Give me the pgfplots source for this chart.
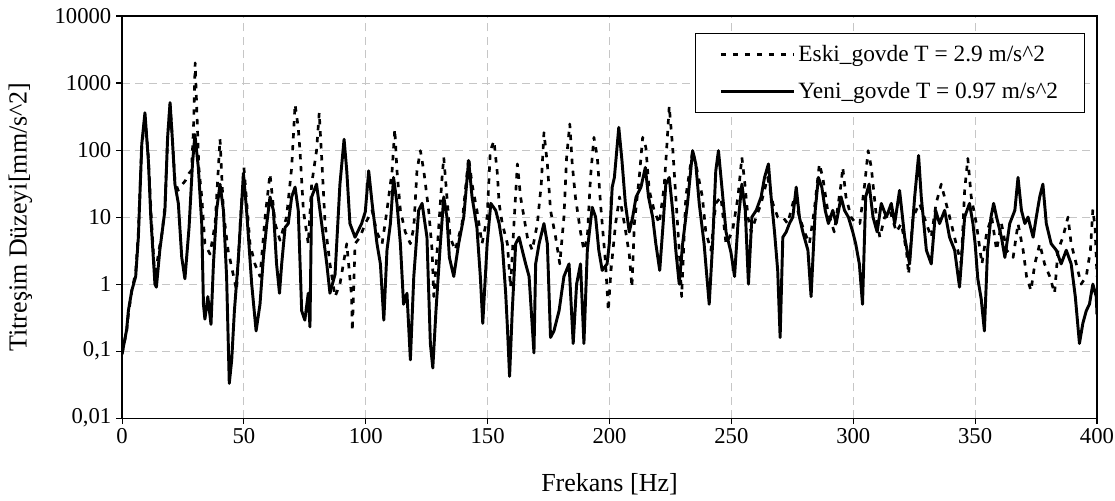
\documentclass[border=0pt]{standalone}
\usepackage{pgfplots}
\pgfplotsset{compat=1.18}
\usepackage{fontspec}
\setmainfont{Liberation Serif}

% Eski_govde (dashed)
\pgfplotstableread{
f v
0 0.09
1.9 0.2
2.6 0.35
4 0.8
5.6 1.5
6.7 6
8 100
9.4 320
10.8 80
12 10
13.5 1.2
15 3
16.5 6
17.6 15
18.7 150
19.7 480
20.6 160
21.7 35
23 25
24.5 30
26 35
27.5 45
28.5 50
29.3 200
30 2000
30.8 300
31.5 55
32.7 20
34 4
36.1 2.8
38.2 8
40.2 145
41.6 12
43.5 3.2
45.6 1.4
47 0.8
48.5 8
50 55
52.5 4
54.5 2
56.6 1.3
58.7 10
60.7 44
62.8 8
64.8 4.5
67.5 10
69.6 55
71 480
72.3 215
73 98
74.4 12.6
76.4 4
77.8 31
79.8 98
80.9 360
81.9 78
83.3 8
85.3 2
87.4 0.65
89.4 1
92.2 4
94.2 0.65
94.5 0.2
95.6 4
97.6 5
99.8 8
102.6 12.6
104.5 6
106.7 4
108.7 12.6
110.8 49
111.9 205
112.8 49
114.2 12.6
116.2 6
118.3 4
119.7 7
121 49
122.4 98
123.8 49
125.8 12.6
127.2 3.2
127.9 0.65
129.3 3.2
131.3 39
132 78
133.3 20
134.6 5
136.7 3.2
139.5 8
142.2 78
143.6 31
145.6 12.6
147.7 4
149.8 10
151.1 98
152.6 137
154 44
154.7 16
156 8
158.1 4
159.4 0.9
160.8 8
162.2 62
163.5 20
164.9 10
166.3 5
168.3 3.2
170.4 8
172 31
173.1 182
174.5 62
175.8 12.6
177.9 5
179.6 2
181.3 10
182.4 78
183.7 245
184.7 62
186 20
188.1 6
189.5 3.2
190.9 5
192.2 39
193.6 155
195 78
196.3 16
198.4 2
199.5 0.4
200.6 1.6
202.5 8
204.1 20
206.1 8
208.1 2.8
209.2 0.9
210.2 8
212.2 39
213.6 155
214.9 110
216.3 25
218.3 12.6
220.4 8
222.4 28
223.4 98
224.5 450
225.9 110
227.2 20
228.6 3.2
229.6 0.65
231.3 20
234.1 98
235.4 62
238.1 20
239.5 6
241.6 3.2
243.6 16
245.7 20
247.8 4
250.4 6
252.7 20
254.3 78
255.4 35
256.8 10
258.1 6
260.2 10
262.2 16
264.9 39
267 16
269 10
271.1 10
273.1 8
275.9 20
277.9 10
280 6
282 4
284 12.6
286.1 62
287.5 39
289.5 12.6
292.2 6
295 31
295.7 55
297 20
299.1 10
301.1 8
302.7 8
304.7 31
306.1 98
307.4 55
309.5 10
310.9 5
312.9 10
315 12.6
317.7 6
319.7 8
321.8 3.2
322.7 1.4
324.5 10
327.2 16
330 8
332 5
334 16
336.1 31
338.1 16
340.2 8
342.2 4
344.3 2
345.7 25
347 75
348.4 20
350.5 8
352.8 2
354.8 6
356.8 10
358.8 3.2
360.8 8
362.9 3.2
365.6 2.5
367.6 8
369.7 3.2
371.1 1.3
372.9 0.8
374.5 2
376.5 4
378.5 2
380.6 1.3
382.6 0.73
384 3.2
386 5
388.1 10
389.4 4
391.5 2
393.5 1
395.6 1.3
397.3 3.2
398.3 13
399.2 7
400 1.3
}\eski

% Yeni_govde (solid)
\pgfplotstableread{
f v
0 0.09
1.9 0.21
2.6 0.4
4.0 0.8
5.6 1.3
6.7 5
8.1 123
9.4 360
10.8 70
11.8 10
13.5 1
14.1 0.9
15.5 3.2
17.6 12.6
18.7 155
19.7 510
20.6 155
21.7 31
23.1 16
24.5 2.5
25.8 1.2
27.5 7
28.9 62
29.9 170
31.3 55
32.7 8
33.4 0.5
34.0 0.3
35.2 0.65
36.5 0.25
37.5 2
38.8 12.6
40.2 31
41.6 12.6
42.9 1.3
44.0 0.033
45.0 0.074
46.1 0.4
47.7 2.3
49.8 45
51.1 12.6
53.2 1
55 0.2
56.6 0.5
58 2.5
59.4 8
60.7 20
62.1 12.6
63.4 2
64.6 0.73
65.5 2
66.9 7
68.2 8
69.6 20
71 28
72.3 12.6
73.7 0.4
75 0.29
76.4 0.73
77.1 0.23
77.8 20
79.8 31
81.9 8
84 2
85.3 0.73
87.4 1.4
89.4 31
91.1 145
92.2 49
93.5 8
95.6 5
98.3 8
99.8 12
101.2 49
102.6 16
104.6 4
106 2
107.4 0.29
108.7 3.2
110.1 8
111.4 39
112.8 16
114.2 4
115.5 0.5
116.9 0.73
118.3 0.074
119.7 1.3
121.7 12.6
123.1 16
125.1 5
126.5 0.13
127.5 0.056
128.8 0.4
130.6 4
132 20
133.3 10
134.3 2.5
136.1 1.3
138.1 4
140.2 10
142.2 70
143.6 20
145.6 7
147 1.3
148 0.26
149.8 4
151.3 16
153.3 12.6
154.7 8
156 4
157.4 0.73
158.1 0.23
159 0.042
160.1 0.4
161.5 4
162.9 5
164.2 3.2
165.6 2
167 1.3
169 0.094
169.7 2
171.1 4
173.1 8
174.5 4
175.8 0.16
177.2 0.2
179.3 0.4
181.3 1.3
183.4 2
185.1 0.13
186.5 1
188.1 2
189.5 0.13
190.9 3.2
192.9 14
194.3 10
195.6 3.2
197 1.6
199 2
199.9 4
201.1 28
202 39
203.8 218
205.1 70
206.5 16
208.1 6
209.5 10
210.9 20
212.9 28
214.7 55
216 20
217.7 10
219 4
220.6 1.6
222 8
223.1 31
224.5 39
225.9 12.6
227.2 3.2
228.6 1
230 4
232 16
234.1 98
235.4 62
236.8 16
238.8 4
240.9 0.5
242.3 4
243.6 49
244.7 98
246.1 28
247.8 6
249.8 3
251.3 1.3
252.7 8
254.3 31
255.7 12.6
257 1
258.4 10
260.2 12.6
262.2 20
263.6 39
265.2 62
266.3 20
267.7 6
269 1.6
270 0.16
271.1 5
272.5 6
273.8 8
275.2 10
276.6 28
277.9 10
279.3 6
281.4 3.2
282.7 0.65
284.4 12.6
285.7 39
287.1 28
288.5 12.6
289.8 8
291.6 12.6
293 8
295 20
296.4 12.6
298 10
299.8 6
301 4
302.5 2
303.8 0.5
305.1 20
306.5 31
308.1 10
309.8 6
311.5 16
313.6 10
315.6 16
317 8
319 25
321.1 5
323.1 2
325.2 20
326.8 83
327.9 20
330 3.2
332 2
333.8 12.6
335.4 8
337.5 12.6
339.5 5
341.6 3.2
343.6 0.9
345.7 10
347.7 16
349.1 8
350 4
351.1 1.2
352.5 0.6
353.8 0.2
355.1 3.2
356.5 10
357.6 16
358.8 10
360.8 5
362.2 2.5
364.2 8
366.3 12.6
367.6 39
369 12.6
370.4 8
371.7 10
373.8 5
375.1 10
376.5 20
377.8 31
379.2 8
381.2 4
383.3 3.2
385.3 2
387.4 3.2
389.4 2
391.1 0.65
392.8 0.13
394.2 0.26
395.6 0.4
396.9 0.5
398.3 1
399.7 0.65
400 0.35
}\yeni

\begin{document}
\begin{tikzpicture}
\begin{axis}[
  name=ax,
  scale only axis,
  width=731pt, height=301.5pt,
  xmin=0, xmax=400, ymin=0.01, ymax=10000,
  ymode=log,
  font=\fontsize{17}{20}\selectfont,
  xtick={0,50,...,400},
  xticklabels={0,50,100,150,200,250,300,350,400},
  ytick={0.01,0.1,1,10,100,1000,10000},
  yticklabels={{0,01},{0,1},1,10,100,1000,10000},
  yminorticks=false,
  xtick pos=bottom, ytick pos=left,
  tick align=outside, major tick length=4.5pt,
  tick style={black, line width=0.8pt},
  axis line style={black, line width=0.9pt},
  grid=major,
  major grid style={gray!45, line width=0.7pt, dash pattern=on 6pt off 4pt},
  xlabel={Frekans [Hz]},
  ylabel={Titreşim Düzeyi[mm/s\textasciicircum 2]},
  label style={font=\fontsize{19.5}{22}\selectfont},
  xlabel style={yshift=-15pt},
  ylabel style={yshift=10pt},
  legend style={at={(0.988,0.958)}, anchor=north east, draw=black,
    line width=0.7pt, font=\fontsize{17.5}{20}\selectfont,
    row sep=10pt, inner xsep=18pt, inner ysep=7pt},
  legend cell align=left,
  legend image code/.code={\draw[#1] (0pt,0pt) -- (55pt,0pt);},
  every axis plot/.append style={black, line join=round},
]
\addplot[line width=2pt, dash pattern=on 4pt off 5pt] table[x=f, y=v] {\eski};
\addlegendentry{Eski\textunderscore govde T = 2.9 m/s\textasciicircum 2}
\addplot[line width=2.2pt] table[x=f, y=v] {\yeni};
\addlegendentry{Yeni\textunderscore govde T = 0.97 m/s\textasciicircum 2}
\end{axis}
\pgfresetboundingbox
\path[use as bounding box] ([xshift=-91.5pt, yshift=-61.5pt]ax.south west) rectangle ([xshift=13.5pt, yshift=12pt]ax.north east);
\end{tikzpicture}
\end{document}
